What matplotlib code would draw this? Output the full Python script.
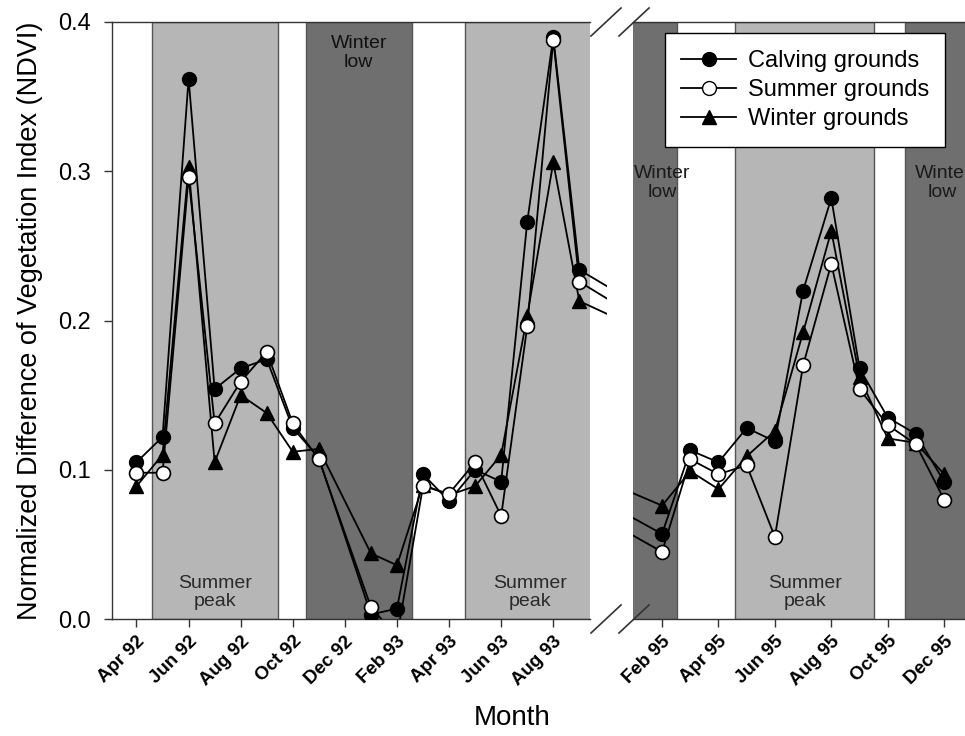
import pandas as pd
import matplotlib
matplotlib.use("Agg")
import matplotlib.pyplot as plt
from matplotlib.lines import Line2D
from matplotlib.patches import Rectangle
from matplotlib.transforms import ScaledTranslation

plt.rcParams['font.family'] = ['Liberation Sans', 'DejaVu Sans']

# NDVI per month
months = ['Apr 92', 'May 92', 'Jun 92', 'Jul 92', 'Aug 92', 'Sep 92', 'Oct 92', 'Nov 92',
          'Jan 93', 'Feb 93', 'Mar 93', 'Apr 93', 'May 93', 'Jun 93', 'Jul 93', 'Aug 93', 'Sep 93',
          'Feb 95', 'Mar 95', 'Apr 95', 'May 95', 'Jun 95', 'Jul 95', 'Aug 95', 'Sep 95',
          'Oct 95', 'Nov 95', 'Dec 95']
calving = [0.105, 0.122, 0.362, 0.154, 0.168, 0.174, 0.128, 0.108,
           0.003, 0.007, 0.097, 0.079, 0.100, 0.092, 0.266, 0.390, 0.234,
           0.057, 0.113, 0.105, 0.128, 0.119, 0.220, 0.282, 0.168, 0.135, 0.124, 0.092]
summer = [0.098, 0.098, 0.296, 0.131, 0.159, 0.179, 0.131, 0.107,
          0.008, -0.012, 0.089, 0.084, 0.105, 0.069, 0.196, 0.388, 0.226,
          0.045, 0.107, 0.097, 0.103, 0.055, 0.170, 0.238, 0.154, 0.130, 0.117, 0.080]
winter = [0.089, 0.110, 0.303, 0.105, 0.150, 0.138, 0.112, 0.114,
          0.044, 0.036, 0.090, 0.083, 0.089, 0.110, 0.203, 0.306, 0.213,
          0.076, 0.099, 0.087, 0.109, 0.126, 0.192, 0.260, 0.162, 0.121, 0.118, 0.097]

left_ticks = ['Apr 92', 'Jun 92', 'Aug 92', 'Oct 92', 'Dec 92', 'Feb 93', 'Apr 93', 'Jun 93', 'Aug 93']
right_ticks = ['Feb 95', 'Apr 95', 'Jun 95', 'Aug 95', 'Oct 95', 'Dec 95']

# seasonal shading, in months since Apr 92
summer_spans = [(0.58, 5.44), (12.61, 17.6), (36.59, 41.53)]
winter_spans = [(6.5, 10.56), (32.5, 34.52), (42.62, 46.0)]


def month_index(labels):
    d = pd.to_datetime(labels, format='%b %y')
    return list((d.year - 1992) * 12 + d.month - 4)


x = month_index(months)

W, H = 965, 736
fig = plt.figure(figsize=(W / 100, H / 100), dpi=100)
ax1 = fig.add_axes([112 / W, 117 / H, 478 / W, 597 / H])
ax2 = fig.add_axes([633 / W, 117 / H, 332 / W, 597 / H])

light, dark, edge = '#b6b6b6', '#6f6f6f', '#555555'
shift = ScaledTranslation(5 / 100, 0, fig.dpi_scale_trans)

for ax, xlim, ticks in [(ax1, (-0.94, 17.41), left_ticks), (ax2, (32.97, 44.74), right_ticks)]:
    for a, b in summer_spans:
        ax.axvspan(a, b, facecolor=light, edgecolor=edge, lw=1, zorder=0)
    for a, b in winter_spans:
        ax.axvspan(a, b, facecolor=dark, edgecolor=edge, lw=1, zorder=0)

    ax.plot(x, calving, '-o', color='black', mfc='black', mec='black',
            ms=10, lw=1.3, zorder=3)
    ax.plot(x, winter, '-^', color='black', mfc='black', mec='black',
            ms=10.5, lw=1.3, zorder=4)
    ax.plot(x, summer, '-o', color='black', mfc='white', mec='black',
            ms=10, mew=1.2, lw=1.3, zorder=5)

    ax.set_xlim(*xlim)
    ax.set_ylim(0, 0.4)
    ax.set_xticks(month_index(ticks))
    ax.set_xticklabels(ticks, rotation=45, ha='right', va='top', rotation_mode='anchor',
                       fontsize=13.5, fontweight='bold')
    for lab in ax.get_xticklabels():
        lab.set_transform(lab.get_transform() + shift)
    ax.tick_params(axis='x', direction='out', length=6, width=1, color='#333333', pad=4)
    for s in ax.spines.values():
        s.set_color('#333333')
        s.set_linewidth(1)
    ax.spines['right'].set_visible(False)

# let the left panel's lines poke past the break a little
for ln in ax1.lines:
    ln.set_clip_path(Rectangle((0, 0), 1 + 17 / 478, 1, transform=ax1.transAxes))

ax1.set_yticks([0.0, 0.1, 0.2, 0.3, 0.4])
ax1.set_yticklabels(['0.0', '0.1', '0.2', '0.3', '0.4'], fontsize=17)
ax1.tick_params(axis='y', direction='out', length=6, width=1, color='#333333', pad=9)
ax1.set_ylabel('Normalized Difference of Vegetation Index (NDVI)', fontsize=19.5, labelpad=11)

ax2.spines['left'].set_visible(False)
ax2.set_yticks([])

# season labels
txt = dict(ha='center', fontsize=14, linespacing=1.1)
for a, b in summer_spans:
    ax = ax1 if b < 20 else ax2
    ax.text((a + b) / 2, 0.006, 'Summer\npeak', va='bottom', color='#2a2a2a', **txt)
ax1.text(8.53, 0.391, 'Winter\nlow', va='top', color='#111111', **txt)
ax2.text(34.0, 0.304, 'Winter\nlow', va='top', color='#1a1a1a', **txt)
ax2.text(43.95, 0.304, 'Winter\nlow', va='top', color='#1a1a1a', **txt)

handles = [
    Line2D([], [], color='black', marker='o', mfc='black', ms=10, lw=1.3),
    Line2D([], [], color='black', marker='o', mfc='white', mec='black', ms=10, lw=1.3),
    Line2D([], [], color='black', marker='^', mfc='black', ms=10.5, lw=1.3),
]
leg = ax2.legend(handles, ['Calving grounds', 'Summer grounds', 'Winter grounds'],
                 loc='upper left', bbox_to_anchor=(0.096, 0.981), borderaxespad=0,
                 fontsize=17, handlelength=2.3, handletextpad=0.5, labelspacing=0.3,
                 borderpad=0.7, frameon=True, fancybox=False, framealpha=1, edgecolor='black')
leg.get_frame().set_linewidth(1)
leg.set_zorder(10)

# break marks
for px in (590 + 16, 633 + 1):
    for py in (22, 619):
        fig.add_artist(Line2D([(px - 15) / W, (px + 15) / W],
                              [1 - (py + 14) / H, 1 - (py - 14) / H],
                              transform=fig.transFigure, color='#333333', lw=1.2))

fig.text(512 / W, 1 - 718 / H, 'Month', ha='center', va='center', fontsize=20)

fig.savefig('out.png', dpi=100)
